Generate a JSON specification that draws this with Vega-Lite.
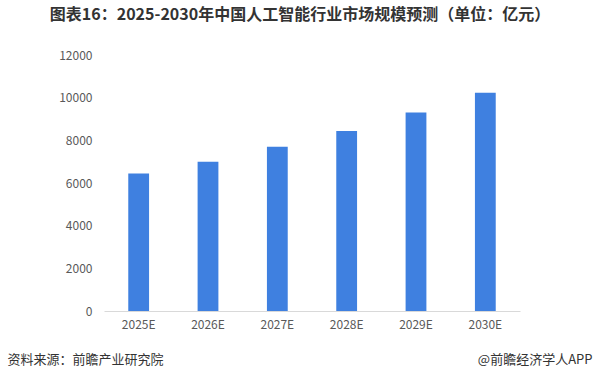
{
  "$schema": "https://vega.github.io/schema/vega-lite/v6.json",
  "autosize": "none",
  "width": 416,
  "height": 256,
  "padding": {"left": 104, "top": 55, "right": 81, "bottom": 68},
  "background": "white",
  "title": {
    "text": "图表16：2025-2030年中国人工智能行业市场规模预测（单位：亿元）",
    "font": "Noto Sans CJK SC",
    "fontSize": 16,
    "fontWeight": "bold",
    "color": "#333333",
    "anchor": "middle",
    "dx": -12,
    "offset": 26
  },
  "data": {
    "values": [
      {"year": "2025E", "value": 6450},
      {"year": "2026E", "value": 7000},
      {"year": "2027E", "value": 7700},
      {"year": "2028E", "value": 8440},
      {"year": "2029E", "value": 9300},
      {"year": "2030E", "value": 10230}
    ]
  },
  "mark": {"type": "bar", "color": "#3f80e0"},
  "encoding": {
    "x": {
      "field": "year",
      "type": "ordinal",
      "sort": null,
      "scale": {"paddingInner": 0.7, "paddingOuter": 0.35},
      "axis": {
        "labelAngle": 0,
        "labelFont": "Noto Sans CJK SC",
        "labelFontSize": 12,
        "labelColor": "#595959",
        "labelPadding": 8,
        "ticks": false,
        "domainColor": "#d9d9d9",
        "title": "资料来源：前瞻产业研究院",
        "titleFont": "Noto Sans CJK SC",
        "titleFontSize": 13,
        "titleFontWeight": "normal",
        "titleColor": "#333333",
        "titleAnchor": "start",
        "titleAlign": "left",
        "titleBaseline": "middle",
        "titleX": -97,
        "titleY": 48
      }
    },
    "y": {
      "field": "value",
      "type": "quantitative",
      "scale": {"domain": [0, 12000]},
      "axis": {
        "values": [0, 2000, 4000, 6000, 8000, 10000, 12000],
        "format": "d",
        "grid": false,
        "domain": false,
        "ticks": false,
        "labelFont": "Noto Sans CJK SC",
        "labelFontSize": 12,
        "labelColor": "#595959",
        "labelPadding": 12,
        "title": "@前瞻经济学人APP",
        "titleFont": "Noto Sans CJK SC",
        "titleFontSize": 13,
        "titleFontWeight": "normal",
        "titleColor": "#333333",
        "titleAngle": 0,
        "titleAlign": "right",
        "titleBaseline": "middle",
        "titleX": 488,
        "titleY": 304
      }
    }
  },
  "config": {"view": {"stroke": null}}
}
